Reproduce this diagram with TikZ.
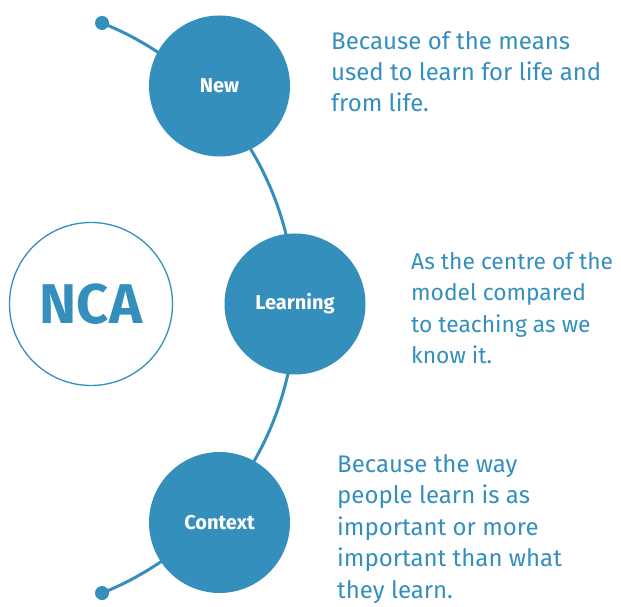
\documentclass[tikz,border=0pt]{standalone}
\usepackage{fontspec}
\setmainfont{Fira Sans}
\usetikzlibrary{positioning}
\definecolor{ncablue}{RGB}{52,143,189}

\begin{document}
\begin{tikzpicture}[x=1pt, y=1pt]
        \tikzset{bubble/.style={circle, fill=ncablue, minimum size=141pt, inner sep=0pt, text=white, font=\bfseries\fontsize{20}{24}\selectfont}}
        \tikzset{note/.style={text=ncablue, align=left, anchor=north west, inner sep=0pt, font=\fontsize{24}{31}\selectfont}}
        \tikzset{enddot/.style={circle, fill=ncablue, minimum size=14pt, inner sep=0pt}}
        \useasboundingbox (0,0) rectangle (621,607);

        % the arc behind the circles
        \coordinate (top) at (102,584);
        \draw[ncablue, line width=3pt] (top) arc[start angle=68.2, end angle=-68.2, radius=307] coordinate (bottom);
        \node[enddot] (topdot) at (top) {};
        \node[enddot] (bottomdot) at (bottom) {};

        \node[bubble] (new) at (219.5,521) {New};
        \node[bubble] (learning) at (295,303) {Learning};
        \node[bubble] (context) at (219.5,84.5) {Context};

        \node[circle, draw=ncablue, line width=1.3pt, minimum size=163pt, inner sep=0pt, text=ncablue, font=\bfseries\fontsize{56}{60}\selectfont] (nca) at (91,303) {NCA};

        \node[note] (newnote) at (331,576) {Because of the means\\used to learn for life and\\from life.};
        \node[note, font=\fontsize{22.8}{31.5}\selectfont] (learningnote) at (411,355) {As the centre of the\\model compared\\to teaching as we\\know it.};
        \node[note, font=\fontsize{24}{31.5}\selectfont] (contextnote) at (337,153) {Because the way\\people learn is as\\important or more\\important than what\\they learn.};
\end{tikzpicture}
\end{document}
